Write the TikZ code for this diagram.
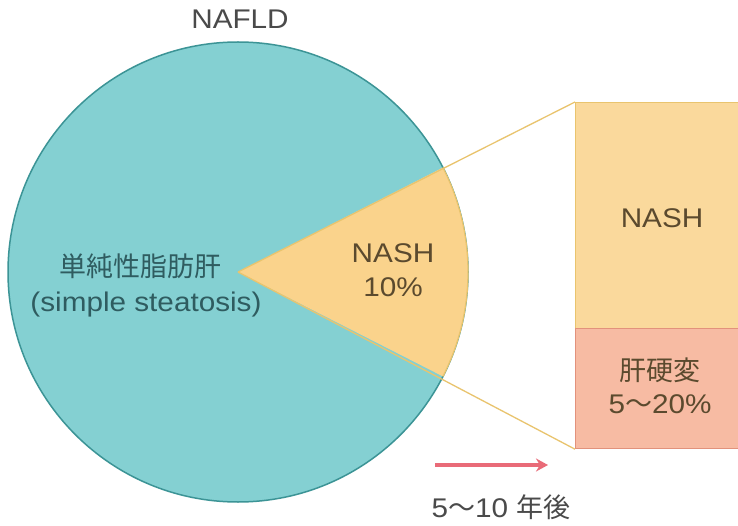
\documentclass[tikz,border=0pt]{standalone}
\usepackage{fontspec}
\setmainfont{Liberation Sans}[FakeStretch=1.1]
\newfontfamily\jp{Noto Sans CJK JP}
\usetikzlibrary{arrows.meta}
\definecolor{tealfill}{HTML}{84D0D2}
\definecolor{tealline}{HTML}{3C9496}
\definecolor{wedgefill}{HTML}{FAD38C}
\definecolor{goldline}{HTML}{E9C46E}
\definecolor{nashfill}{HTML}{FAD99C}
\definecolor{cirfill}{HTML}{F7BBA3}
\definecolor{cirline}{HTML}{E2927C}
\definecolor{arrowred}{HTML}{E96B78}
\definecolor{txtgray}{HTML}{4A4A4A}
\definecolor{txtteal}{HTML}{2F5C60}
\definecolor{txtbrown}{HTML}{5B4A2E}
\tikzset{
  lbl/.style={inner sep=0pt, anchor=base, font=\fontsize{27}{30}\selectfont, text=txtgray},
  goldedge/.style={draw=goldline, line width=1.3pt},
}
\begin{document}
\begin{tikzpicture}[x=1pt,y=1pt]
\useasboundingbox (0,0) rectangle (738,-526);
\clip (0,0) rectangle (738,-526);
\fill[white] (0,0) rectangle (738,-526);
% circle
\node[circle, minimum size=460pt, inner sep=0pt, fill=tealfill, draw=tealline, line width=1.5pt] (nafld) at (238,-272) {};
\coordinate (apex) at (238,-272);
% wedge
\fill[wedgefill] (apex) -- ++(27:230) arc[start angle=27, end angle=-27, radius=230] -- cycle;
\draw[goldedge] (apex) ++(27:230) arc[start angle=27, end angle=-27, radius=230];
% boxes
\node[draw=goldline, fill=nashfill, line width=1.2pt, minimum width=180pt, minimum height=226pt, anchor=north west, inner sep=0pt] (nashbox) at (575,-102) {};
\node[draw=cirline, fill=cirfill, line width=1.2pt, minimum width=180pt, minimum height=120pt, anchor=north west, inner sep=0pt] (cirbox) at (575,-328) {};
% connectors
\draw[goldedge] (apex) -- (nashbox.north west);
\draw[goldedge] (apex) -- (cirbox.south west);
% labels
\node[lbl] (tnafld) at (240,-29) {NAFLD};
\node[lbl, text=txtteal] (tsimplejp) at (140,-277) {\jp 単純性脂肪肝};
\node[lbl, text=txtteal] (tsimple) at (146,-311) {(simple steatosis)};
\node[lbl, text=txtbrown] (tnash1) at (393,-263) {NASH};
\node[lbl, text=txtbrown] (tpct1) at (393,-297) {10\%};
\node[lbl, text=txtbrown] (tnash2) at (662,-228) {NASH};
\node[lbl, text=txtbrown] (tcir) at (660,-380) {\jp 肝硬変};
\node[lbl, text=txtbrown] (tcirpct) at (660,-413) {5{\jp 〜}20\%};
% arrow
\coordinate (arrs) at (435,-465);
\coordinate (arre) at (548,-465);
\draw[arrowred, line width=3.5pt, -{Stealth[length=12pt, width=13pt]}] (arrs) -- (arre);
\node[lbl] (tyears) at (501,-517) {5{\jp 〜}10 {\jp 年後}};
\end{tikzpicture}
\end{document}
